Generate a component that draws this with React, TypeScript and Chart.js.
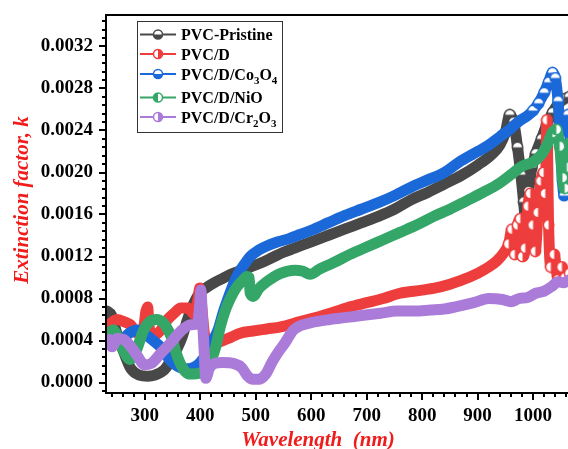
import { useEffect, useRef } from "react";
import { Chart, registerables } from "chart.js";

Chart.register(...registerables);

const SERIF = "'Liberation Serif', 'Times New Roman', serif";

// Wavelength (nm) and extinction factor k for each film
const pristineNm = [232, 240, 250, 262, 275, 290, 305, 318, 335, 347, 358, 367, 377, 389, 400, 410, 425, 440, 455, 470, 490, 510, 530, 550, 570, 600, 630, 660, 690, 720, 750, 780, 810, 840, 870, 900, 925, 940, 950, 958, 965, 972, 978, 983, 987, 992, 998, 1005, 1015, 1025, 1035, 1045, 1055, 1065];
const pristineK = [0.00068, 0.00064, 0.00046, 0.00029, 0.00013, 0.00007, 0.00006, 0.00007, 0.00012, 0.00021, 0.00032, 0.00043, 0.0006, 0.00076, 0.00086, 0.0009, 0.00095, 0.00099, 0.00103, 0.00106, 0.0011, 0.00114, 0.00119, 0.00124, 0.00128, 0.00134, 0.0014, 0.00146, 0.00152, 0.00158, 0.00165, 0.00174, 0.00181, 0.00189, 0.00197, 0.00207, 0.00217, 0.00226, 0.00238, 0.00255, 0.00248, 0.00224, 0.00198, 0.00172, 0.00152, 0.00182, 0.00205, 0.00218, 0.00232, 0.00246, 0.00257, 0.00265, 0.0027, 0.00272];

const dyeNm = [232, 240, 250, 262, 274, 286, 297, 302, 305, 308, 317, 329, 341, 353, 365, 378, 389, 396, 399, 403, 408, 420, 436, 455, 472, 495, 520, 545, 580, 610, 640, 670, 700, 730, 760, 800, 833, 869, 900, 920, 935, 948, 956, 962, 967, 972, 977, 981, 986, 991, 995, 1000, 1004, 1009, 1014, 1019, 1022, 1025, 1028, 1032, 1038, 1045, 1052, 1058, 1066];
const dyeK = [0.00052, 0.00057, 0.0006, 0.00058, 0.00055, 0.00047, 0.00049, 0.00068, 0.00072, 0.00052, 0.00045, 0.0005, 0.0006, 0.00066, 0.00071, 0.00071, 0.00065, 0.0008, 0.0009, 0.0007, 0.00045, 0.00038, 0.00039, 0.00043, 0.00047, 0.00049, 0.00051, 0.00053, 0.00058, 0.00062, 0.00067, 0.00072, 0.00076, 0.0008, 0.00085, 0.00088, 0.00091, 0.00097, 0.00104, 0.0011, 0.00116, 0.00124, 0.00132, 0.00146, 0.00122, 0.0015, 0.00156, 0.0012, 0.00128, 0.00168, 0.0018, 0.0015, 0.00125, 0.00162, 0.00192, 0.002, 0.0018, 0.0025, 0.0015, 0.0011, 0.00122, 0.00098, 0.0011, 0.001, 0.00104];

const cobaltNm = [232, 245, 258, 272, 288, 303, 315, 328, 340, 352, 365, 378, 390, 400, 412, 423, 432, 442, 450, 460, 470, 480, 490, 505, 520, 540, 560, 580, 600, 630, 660, 690, 720, 750, 780, 810, 840, 870, 900, 920, 940, 960, 975, 990, 1000, 1010, 1020, 1028, 1035, 1040, 1045, 1049, 1053, 1056, 1059, 1063, 1067];
const cobaltK = [0.0004, 0.00037, 0.0004, 0.00047, 0.0005, 0.00045, 0.0004, 0.00034, 0.00025, 0.00018, 0.00014, 0.00013, 0.00015, 0.00019, 0.00028, 0.0004, 0.0005, 0.00068, 0.0008, 0.00094, 0.00105, 0.00113, 0.0012, 0.00126, 0.0013, 0.00134, 0.00137, 0.00141, 0.00145, 0.00152, 0.00159, 0.00165, 0.00171, 0.00178, 0.00186, 0.00193, 0.002, 0.00211, 0.0022, 0.00226, 0.00234, 0.00242, 0.00249, 0.00254, 0.00259, 0.00266, 0.00276, 0.00286, 0.00295, 0.0029, 0.00268, 0.00232, 0.00192, 0.00178, 0.00215, 0.00255, 0.0024];

const nickelNm = [232, 243, 252, 261, 273, 285, 297, 309, 321, 333, 343, 350, 356, 364, 372, 382, 400, 412, 420, 428, 436, 446, 455, 466, 476, 484, 488, 490, 496, 505, 520, 545, 570, 585, 598, 615, 640, 670, 700, 730, 760, 790, 820, 850, 880, 910, 940, 960, 980, 1000, 1015, 1025, 1035, 1042, 1048, 1053, 1057, 1061, 1066];
const nickelK = [0.00045, 0.0005, 0.00042, 0.00031, 0.00022, 0.00031, 0.00049, 0.00058, 0.0006, 0.00057, 0.00049, 0.0004, 0.00029, 0.00018, 0.00011, 0.00008, 0.00009, 0.00014, 0.00022, 0.00034, 0.00053, 0.0007, 0.00081, 0.00091, 0.00097, 0.00101, 0.001, 0.00085, 0.00082, 0.00089, 0.00096, 0.00104, 0.00107, 0.00106, 0.00103, 0.00108, 0.00114, 0.00122, 0.00129, 0.00136, 0.00143, 0.0015, 0.00158, 0.00165, 0.00173, 0.00181, 0.0019, 0.00198, 0.00206, 0.0021, 0.00217, 0.00226, 0.00238, 0.00241, 0.00225, 0.00195, 0.00185, 0.00205, 0.00228];

const chromiumNm = [232, 236, 241, 250, 262, 275, 287, 299, 311, 329, 347, 365, 383, 395, 399, 401, 404, 407, 410, 416, 425, 440, 461, 475, 484, 495, 505, 518, 530, 542, 553, 560, 568, 580, 600, 634, 664, 694, 725, 755, 785, 815, 840, 860, 893, 920, 945, 960, 975, 990, 1005, 1020, 1035, 1045, 1055, 1066];
const chromiumK = [0.00037, 0.00041, 0.00034, 0.00042, 0.00041, 0.00034, 0.00025, 0.00017, 0.00018, 0.00028, 0.00038, 0.00049, 0.00055, 0.00056, 0.00075, 0.00088, 0.0006, 0.0003, 0.00004, 0.00013, 0.00018, 0.00019, 0.00018, 0.00014, 0.00007, 0.00003, 0.00003, 0.00008, 0.0002, 0.0003, 0.00038, 0.00044, 0.0005, 0.00054, 0.00057, 0.0006, 0.00062, 0.00064, 0.00066, 0.00068, 0.00068, 0.00069, 0.0007, 0.00072, 0.00076, 0.0008, 0.00079, 0.00077, 0.0008, 0.00081, 0.00085, 0.00087, 0.00092, 0.00096, 0.00095, 0.00098];

// Legend labels; "_n" marks a subscript digit
const seriesLabels = ["PVC-Pristine", "PVC/D", "PVC/D/Co_3O_4", "PVC/D/NiO", "PVC/D/Cr_2O_3"];
const seriesColors = ["#484848", "#ee3d3d", "#1b69d9", "#34a768", "#ab7bd9"];
const markerHalves = ["bottom", "right", "bottom", "left", "right"];
// wavelength above which the noisy tail is drawn with open markers
const markerFrom = [945, 950, 1000, 1030, 2000];

const xMajorTicks = [300, 400, 500, 600, 700, 800, 900, 1000];
const yMajorTicks = [0, 0.0004, 0.0008, 0.0012, 0.0016, 0.002, 0.0024, 0.0028, 0.0032];

const X_MIN = 230;
const X_MAX = 1063;
const Y_MIN = -0.0001;
const Y_MAX = 0.0035;

function drawHalfCircle(ctx: CanvasRenderingContext2D, x: number, y: number, r: number, color: string, half: string) {
  ctx.beginPath();
  ctx.arc(x, y, r, 0, Math.PI * 2);
  ctx.fillStyle = "#fff";
  ctx.fill();
  const start = half === "bottom" ? 0 : half === "top" ? Math.PI : half === "right" ? -Math.PI / 2 : Math.PI / 2;
  ctx.beginPath();
  ctx.arc(x, y, r, start, start + Math.PI);
  ctx.closePath();
  ctx.fillStyle = color;
  ctx.fill();
  ctx.beginPath();
  ctx.arc(x, y, r, 0, Math.PI * 2);
  ctx.strokeStyle = color;
  ctx.lineWidth = 1.5;
  ctx.stroke();
}

function makeMarker(color: string, half: string) {
  const c = document.createElement("canvas");
  c.width = 13;
  c.height = 13;
  const g = c.getContext("2d");
  if (g) drawHalfCircle(g, 6.5, 6.5, 5.2, color, half);
  return c;
}

function drawSubscripted(ctx: CanvasRenderingContext2D, text: string, x: number, baseline: number) {
  const parts = text.split(/(_\d)/).filter((p) => p.length > 0);
  let cx = x;
  for (const p of parts) {
    if (p.startsWith("_")) {
      ctx.font = `bold 11px ${SERIF}`;
      ctx.fillText(p.slice(1), cx, baseline + 4);
      cx += ctx.measureText(p.slice(1)).width;
    } else {
      ctx.font = `bold 16px ${SERIF}`;
      ctx.fillText(p, cx, baseline);
      cx += ctx.measureText(p).width;
    }
  }
}

const framePlugin = {
  id: "frame",
  afterDraw(chart: any) {
    const { ctx, chartArea: a } = chart;
    const xs = chart.scales.x;
    const ys = chart.scales.y;
    ctx.save();
    ctx.strokeStyle = "#000";
    ctx.lineWidth = 2;
    ctx.lineCap = "butt";
    ctx.beginPath();
    ctx.moveTo(a.left - 1, a.top);
    ctx.lineTo(a.right + 2, a.top);
    ctx.moveTo(a.left, a.top - 1);
    ctx.lineTo(a.left, a.bottom + 1);
    ctx.moveTo(a.left - 1, a.bottom);
    ctx.lineTo(a.right + 2, a.bottom);
    ctx.stroke();

    // y ticks: majors every 0.0004, four minors between
    ctx.beginPath();
    for (let i = -1; i <= 44; i++) {
      const v = i * 0.00008;
      if (v < Y_MIN || v > Y_MAX) continue;
      const py = Math.round(ys.getPixelForValue(v));
      const len = i % 5 === 0 ? 7 : 4;
      ctx.moveTo(a.left, py);
      ctx.lineTo(a.left - len, py);
    }
    // x ticks: majors every 100 nm, minors every 20 nm
    for (let v = 240; v <= X_MAX; v += 20) {
      const px = Math.round(xs.getPixelForValue(v));
      const len = v % 100 === 0 ? 7 : 4;
      ctx.moveTo(px, a.bottom);
      ctx.lineTo(px, a.bottom + len);
    }
    ctx.stroke();

    // axis titles
    ctx.fillStyle = "#f01c1c";
    ctx.font = `italic bold 21px ${SERIF}`;
    ctx.textAlign = "center";
    ctx.textBaseline = "alphabetic";
    ctx.fillText("Wavelength  (nm)", 318, 446);
    ctx.save();
    ctx.translate(28, 200);
    ctx.rotate(-Math.PI / 2);
    ctx.fillText("Extinction factor, k", 0, 0);
    ctx.restore();

    // legend
    const box = { left: 137.5, top: 21.5, right: 282.5, bottom: 132.5 };
    ctx.strokeStyle = "#333";
    ctx.lineWidth = 1;
    ctx.strokeRect(box.left, box.top, box.right - box.left, box.bottom - box.top);
    const rows = [34.5, 54, 74, 97.5, 117];
    ctx.textAlign = "left";
    ctx.textBaseline = "alphabetic";
    seriesLabels.forEach((label, i) => {
      const cy = rows[i];
      ctx.strokeStyle = seriesColors[i];
      ctx.lineWidth = 2;
      ctx.beginPath();
      ctx.moveTo(140, cy);
      ctx.lineTo(176, cy);
      ctx.stroke();
      drawHalfCircle(ctx, 158, cy, 4.5, seriesColors[i], markerHalves[i]);
      ctx.fillStyle = "#000";
      drawSubscripted(ctx, label, 181, cy + 5.5);
    });
    ctx.restore();
  },
};

function toPoints(nm: number[], k: number[]) {
  return nm.map((x, i) => ({ x, y: k[i] }));
}

export default function App() {
  const canvasRef = useRef<HTMLCanvasElement | null>(null);

  useEffect(() => {
    const canvas = canvasRef.current;
    if (!canvas) return;
    const series = [
      toPoints(pristineNm, pristineK),
      toPoints(dyeNm, dyeK),
      toPoints(cobaltNm, cobaltK),
      toPoints(nickelNm, nickelK),
      toPoints(chromiumNm, chromiumK),
    ];
    const chart = new Chart(canvas, {
      type: "line",
      data: {
        datasets: series.map((data, i) => ({
          label: seriesLabels[i],
          data,
          borderColor: seriesColors[i],
          backgroundColor: seriesColors[i],
          borderWidth: 11,
          borderCapStyle: "round",
          borderJoinStyle: "round",
          pointStyle: makeMarker(seriesColors[i], markerHalves[i]),
          pointRadius: (c: any) => (c.raw && c.raw.x >= markerFrom[i] ? 5 : 0),
          cubicInterpolationMode: "monotone",
          fill: false,
          order: 5 - i,
        })),
      },
      options: {
        animation: false,
        responsive: false,
        devicePixelRatio: 1,
        events: [],
        layout: { autoPadding: false, padding: { top: 15, right: 0, left: 0, bottom: 0 } },
        plugins: { legend: { display: false }, tooltip: { enabled: false } },
        scales: {
          x: {
            type: "linear",
            min: X_MIN,
            max: X_MAX,
            grid: { display: false, drawTicks: false },
            border: { display: false },
            afterBuildTicks: (s: any) => {
              s.ticks = xMajorTicks.map((value) => ({ value }));
            },
            afterFit: (s: any) => {
              s.height = 56;
              s.paddingLeft = 0;
              s.paddingRight = 0;
            },
            ticks: {
              color: "#000",
              padding: 12,
              maxRotation: 0,
              font: { family: SERIF, size: 19, weight: "bold" },
              callback: (v: any) => String(v),
            },
          },
          y: {
            type: "linear",
            min: Y_MIN,
            max: Y_MAX,
            grid: { display: false, drawTicks: false },
            border: { display: false },
            afterBuildTicks: (s: any) => {
              s.ticks = yMajorTicks.map((value) => ({ value }));
            },
            afterFit: (s: any) => {
              s.width = 106;
              s.paddingTop = 0;
              s.paddingBottom = 0;
            },
            ticks: {
              color: "#000",
              padding: 13,
              font: { family: SERIF, size: 19, weight: "bold" },
              callback: (v: any) => Number(v).toFixed(4),
            },
          },
        },
      },
      plugins: [framePlugin],
    } as any);
    return () => chart.destroy();
  }, []);

  return (
    <div style={{ position: "fixed", left: 0, top: 0, width: 568, height: 449, background: "#fff" }}>
      <canvas ref={canvasRef} width={568} height={449} style={{ display: "block" }} />
    </div>
  );
}
